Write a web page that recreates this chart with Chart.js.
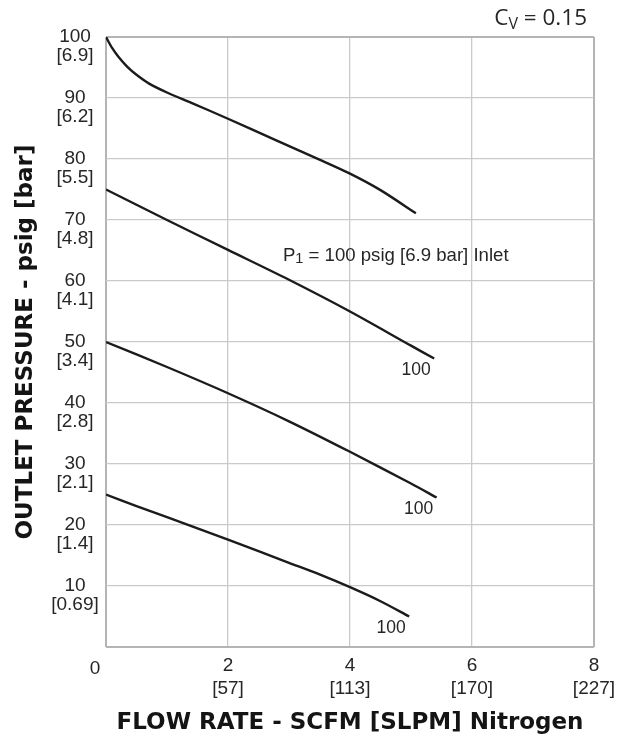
<!DOCTYPE html>
<html>
<head>
<meta charset="utf-8">
<script src="https://cdn.jsdelivr.net/npm/chart.js@4.4.1/dist/chart.umd.min.js"></script>
<style>
  body { margin: 0; background: #fff; }
  .wrap { width: 617px; height: 738px; position: relative; }
</style>
</head>
<body>
<div class="wrap"><canvas id="flow-chart"></canvas></div>
<script>
// curves (flow in SCFM, outlet pressure in psig)
let flowTop = [0, 0.1, 0.2, 0.35, 0.5, 0.7, 1, 1.4, 2, 2.8, 3.5, 4, 4.5, 5.08];
let pressureTop = [100, 98.2, 96.8, 95.1, 93.8, 92.4, 90.9, 89.2, 86.6, 83, 79.9, 77.6, 74.9, 71.1];
let flow75 = [0, 1, 2, 3, 4, 5, 5.38];
let pressure75 = [75, 70, 65.1, 60.2, 55, 49.4, 47.3];
let flow50 = [0, 1, 2, 3, 4, 5, 5.42];
let pressure50 = [50, 45.9, 41.6, 37, 32, 26.8, 24.5];
let flow25 = [0, 0.5, 1, 2, 3, 3.5, 4, 4.5, 4.97];
let pressure25 = [25, 23.1, 21.3, 17.6, 13.8, 11.9, 9.8, 7.5, 5];
let endLabels = ["", "100", "100", "100"];

let xTicks = [0, 2, 4, 6, 8];
let xTickLabels = [["0"], ["2", "[57]"], ["4", "[113]"], ["6", "[170]"], ["8", "[227]"]];
let yTicks = [10, 20, 30, 40, 50, 60, 70, 80, 90, 100];
let yTickLabels = [
  ["10", "[0.69]"], ["20", "[1.4]"], ["30", "[2.1]"], ["40", "[2.8]"], ["50", "[3.4]"],
  ["60", "[4.1]"], ["70", "[4.8]"], ["80", "[5.5]"], ["90", "[6.2]"], ["100", "[6.9]"]
];

let textColor = "#262626";
let tickFont = '19px "Liberation Sans", Arial, sans-serif';

function toPoints(xs, ys) {
  return xs.map(function (x, i) {
    return { x: x, y: ys[i] };
  });
}

function curve(xs, ys) {
  return {
    data: toPoints(xs, ys),
    borderColor: "#1b1b1b",
    borderWidth: 2.4,
    pointRadius: 0,
    fill: false,
    tension: 0.3,
  };
}

function frameWidth(max) {
  return function (c) {
    return c.tick.value === 0 || c.tick.value === max ? 2 : 1.3;
  };
}

function frameColor(max) {
  return function (c) {
    return c.tick.value === 0 || c.tick.value === max ? "#b4b4b4" : "#cacaca";
  };
}

let labelPlugin = {
  id: "labels",
  afterDraw: function (chart) {
    let ctx = chart.ctx;
    let area = chart.chartArea;
    let xs = chart.scales.x;
    let ys = chart.scales.y;
    ctx.save();
    ctx.fillStyle = textColor;

    // tick labels
    ctx.font = tickFont;
    ctx.textAlign = "center";
    ctx.textBaseline = "middle";
    xTicks.forEach(function (v, i) {
      let px = xs.getPixelForValue(v);
      let lines = xTickLabels[i];
      if (lines.length === 1) {
        ctx.fillText(lines[0], px - 11, area.bottom + 22);
      } else {
        ctx.fillText(lines[0], px, area.bottom + 19);
        ctx.fillText(lines[1], px, area.bottom + 42);
      }
    });
    yTicks.forEach(function (v, i) {
      let py = ys.getPixelForValue(v);
      ctx.fillText(yTickLabels[i][0], area.left - 31, py);
      ctx.fillText(yTickLabels[i][1], area.left - 31, py + 19);
    });

    // "100" at the end of each curve
    ctx.font = '17.5px "Liberation Sans", Arial, sans-serif';
    chart.data.datasets.forEach(function (ds, i) {
      if (!endLabels[i]) return;
      let pts = chart.getDatasetMeta(i).data;
      let last = pts[pts.length - 1];
      ctx.fillText(endLabels[i], last.x - 18, last.y + 12);
    });

    // inlet note
    ctx.textAlign = "left";
    ctx.font = '18.6px "Liberation Sans", Arial, sans-serif';
    let nx = xs.getPixelForValue(2.9);
    let ny = ys.getPixelForValue(64.2);
    ctx.fillText("P", nx, ny);
    nx += ctx.measureText("P").width;
    ctx.font = '14.5px "Liberation Sans", Arial, sans-serif';
    ctx.fillText("1", nx, ny + 4);
    nx += ctx.measureText("1").width;
    ctx.font = '18.6px "Liberation Sans", Arial, sans-serif';
    ctx.fillText(" = 100 psig [6.9 bar] Inlet", nx, ny);

    // Cv
    ctx.textBaseline = "alphabetic";
    ctx.font = '22.5px "Open Sans", sans-serif';
    let rest = " = 0.15";
    let restW = ctx.measureText(rest).width;
    let cW = ctx.measureText("C").width;
    ctx.font = '16px "Open Sans", sans-serif';
    let vW = ctx.measureText("V").width;
    let cx = area.right - 7 - restW - vW - cW;
    ctx.font = '22.5px "Open Sans", sans-serif';
    ctx.fillText("C", cx, 25);
    ctx.fillText(rest, cx + cW + vW, 25);
    ctx.font = '16px "Open Sans", sans-serif';
    ctx.fillText("V", cx + cW, 29);

    // axis titles
    ctx.fillStyle = "#141414";
    ctx.font = 'bold 23px "DejaVu Sans", sans-serif';
    ctx.textAlign = "center";
    ctx.fillText("FLOW RATE - SCFM [SLPM] Nitrogen", (area.left + area.right) / 2, 729);
    ctx.translate(32, (area.top + area.bottom) / 2);
    ctx.rotate(-Math.PI / 2);
    ctx.fillText("OUTLET PRESSURE - psig [bar]", 0, 0);
    ctx.restore();
  },
};

let chart = new Chart(document.getElementById("flow-chart"), {
  type: "line",
  data: {
    datasets: [
      curve(flowTop, pressureTop),
      curve(flow75, pressure75),
      curve(flow50, pressure50),
      curve(flow25, pressure25),
    ],
  },
  options: {
    responsive: true,
    maintainAspectRatio: false,
    animation: false,
    layout: {
      padding: { left: 106, right: 23, top: 37, bottom: 91 },
    },
    plugins: {
      legend: { display: false },
      tooltip: { enabled: false },
    },
    scales: {
      x: {
        type: "linear",
        min: 0,
        max: 8,
        ticks: { display: false, stepSize: 2 },
        grid: { color: frameColor(8), lineWidth: frameWidth(8), drawTicks: false },
        border: { display: false },
      },
      y: {
        min: 0,
        max: 100,
        ticks: { display: false, stepSize: 10 },
        grid: { color: frameColor(100), lineWidth: frameWidth(100), drawTicks: false },
        border: { display: false },
      },
    },
  },
  plugins: [labelPlugin],
});
</script>
</body>
</html>
